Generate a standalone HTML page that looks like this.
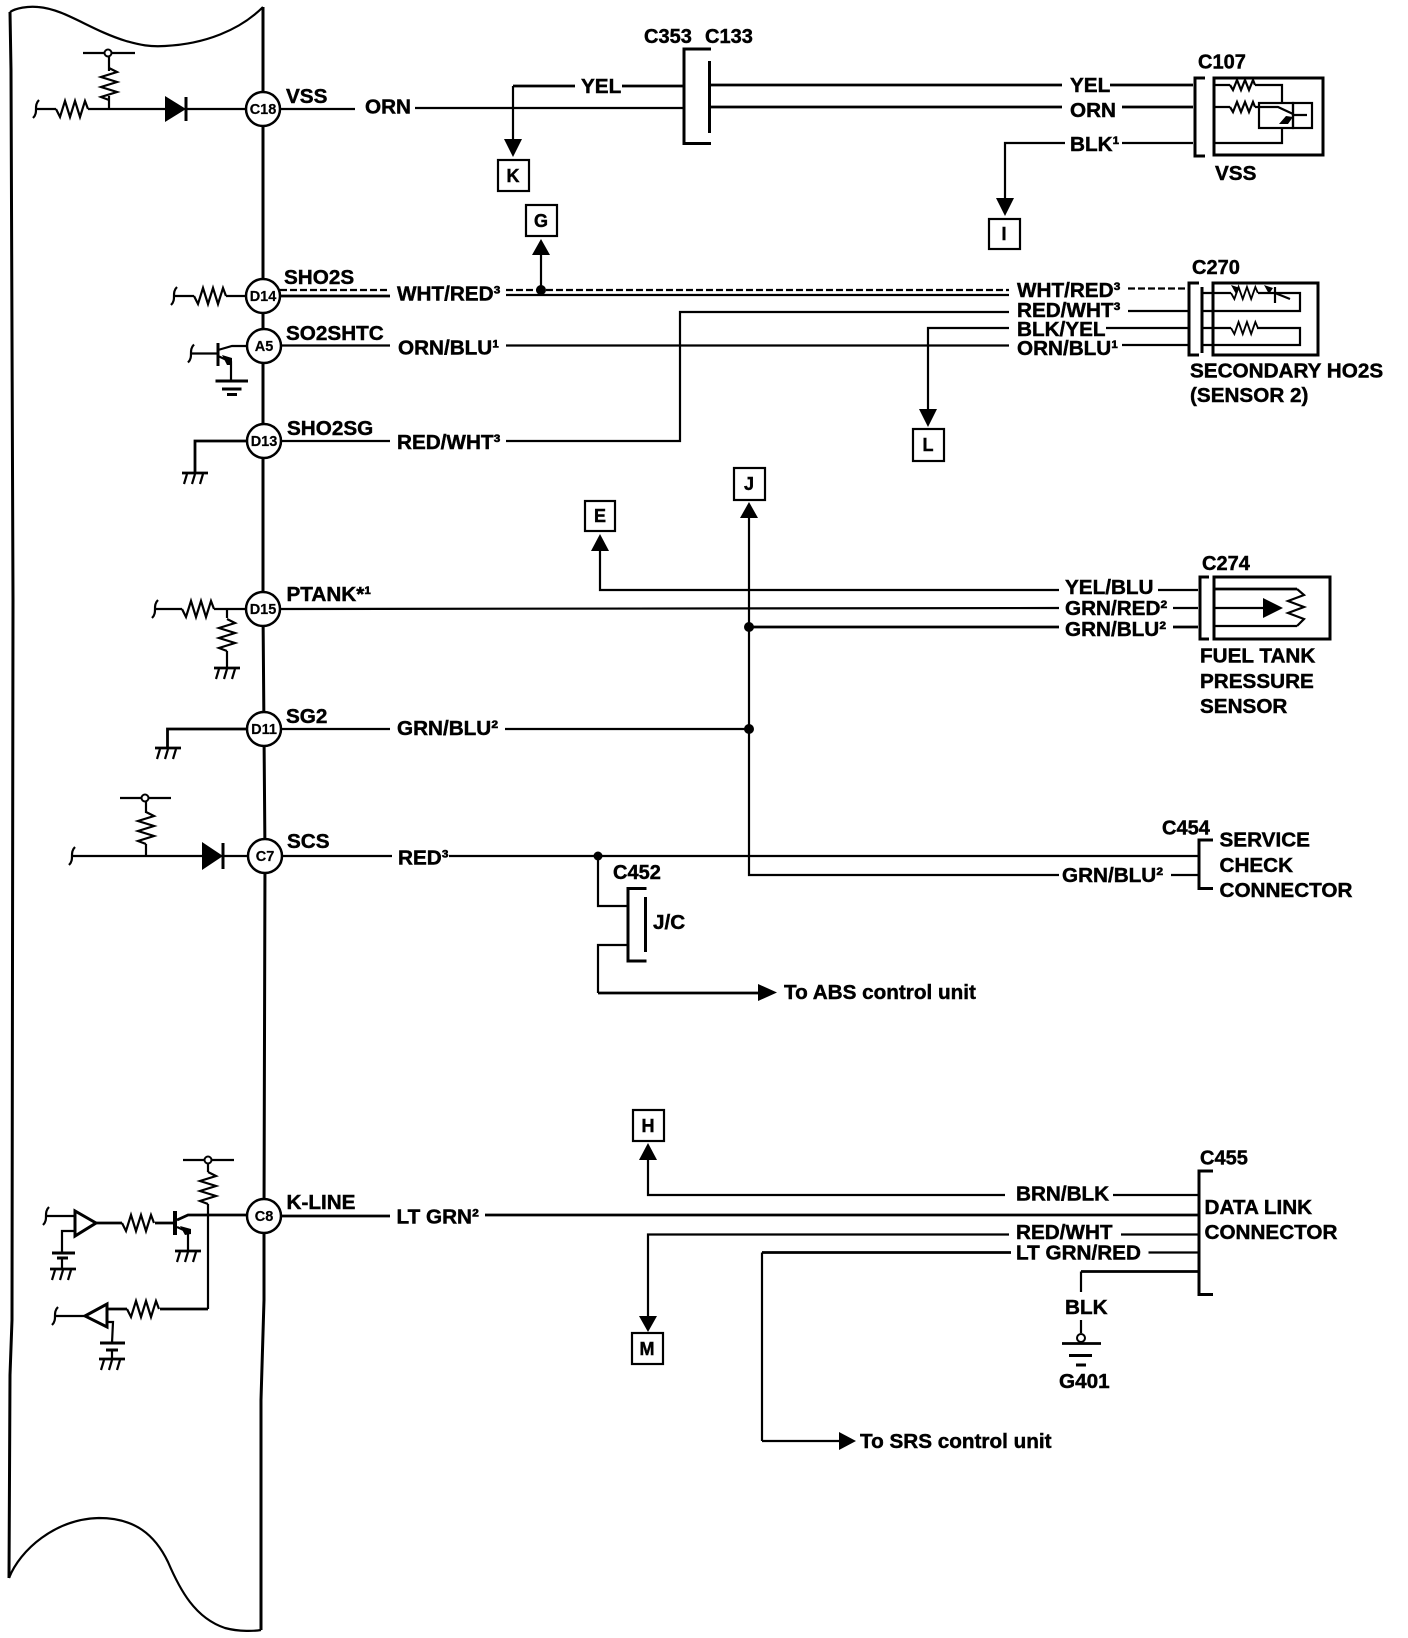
<!DOCTYPE html>
<html><head><meta charset="utf-8"><title>Wiring diagram</title>
<style>
html,body{margin:0;padding:0;background:#fff}
svg{display:block}
text{font-family:"Liberation Sans",sans-serif;font-weight:bold;font-size:20.7px;fill:#000;stroke:#000;stroke-width:.45}
.c{font-size:20px}
.p{font-size:14.5px;text-anchor:middle;stroke-width:.2}
.b{font-size:18px;text-anchor:middle}
.w{fill:none;stroke:#000;stroke-width:2.2;stroke-linejoin:miter}
.t{fill:none;stroke:#000;stroke-width:3}
.h{fill:none;stroke:#000;stroke-width:2.8}
.d{fill:none;stroke:#000;stroke-width:2.2;stroke-dasharray:7 3}
.f{fill:#000;stroke:none}
.o{fill:#fff;stroke:#000;stroke-width:2.5}
.r{fill:#fff;stroke:#000;stroke-width:2}
</style></head><body>
<svg xmlns="http://www.w3.org/2000/svg" width="1408" height="1638" viewBox="0 0 1408 1638">
<defs>
<path id="rh" class="w" d="M0 0L4 8L9 -8L14 8L19 -8L24 8L29 -8L32 0"/>
<path id="rv" class="w" d="M0 0L8 4L-8 9L8 14L-8 19L8 24L-8 29L0 32"/>
<path id="rs" class="w" d="M0 0L3 5L7 -5L11 5L15 -5L19 5L23 -5L25 0"/>
<path id="brk" class="w" d="M-3 9C0 6 0 3 0 0C0 -3 0 -6 3 -9"/>
<g id="gnd"><path class="h" d="M-13 0H13"/><path class="w" d="M-8 1L-11 11M0 1L-3 11M8 1L5 11"/></g>
</defs>
<rect width="1408" height="1638" fill="#fff"/>

<!-- ECU outline -->
<path class="t" d="M10 12L11 70L13 600L12 1320L10 1375L9 1578"/>
<path class="w" d="M10 12C16 8 28 6 38 7C65 9 90 30 126 41C140 45 150 47 165 46C205 44 240 30 263 7"/>
<path class="w" d="M9 1578C20 1550 55 1519 99 1518C135 1518 155 1535 168 1562C180 1590 195 1618 225 1628C240 1632 255 1631 261 1630"/>
<path class="t" d="M263 7L263 609L265 856L264 1216L264 1300L261 1400L261 1630"/>

<!-- C18 VSS -->
<use href="#brk" x="36" y="109"/>
<path class="w" d="M36 109H56M88 109H165M186 109H247M109 109V96M109 71V53M83 53H135"/>
<use href="#rh" x="56" y="109"/>
<use href="#rv" x="109" y="68" />
<path class="f" d="M165 96L186 109L165 122Z"/><path class="t" d="M186 97V121"/>
<circle class="r" cx="108" cy="53" r="3.5"/>
<path class="w" d="M280 109H355M415 108H683"/>
<path class="h" d="M683 86H622M575 86H513"/><path class="w" d="M513 86V139"/>
<path class="f" d="M504 139H522L513 157Z"/>
<path class="t" d="M711 49H684V143.500H711M709.500 61V133"/>
<path class="h" d="M710 85H1062M1110 85H1193M710 107H1062M1122 107H1193"/>
<path class="w" d="M1065 143H1005V198M1122 143H1193"/>
<path class="f" d="M996 198H1014L1005 216Z"/>

<!-- C107 -->
<path class="t" d="M1205 78H1195V156H1205"/>
<rect class="t" x="1214" y="78" width="109" height="77"/>
<path class="w" d="M1214 85H1230M1255 85H1282V103M1214 107H1230M1255 107H1278L1293 114M1214 143H1282V128M1293 115H1307"/>
<use href="#rs" x="1230" y="85"/><use href="#rs" x="1230" y="107"/>
<rect x="1259" y="103" width="34" height="25" class="w"/><rect x="1293" y="103" width="19" height="25" class="w"/>
<path class="f" d="M1279 124L1286 116L1293 117L1288 124Z"/>

<!-- D14 SHO2S -->
<use href="#brk" x="174" y="296"/>
<path class="w" d="M174 296H194M226 296H247"/><use href="#rh" x="194" y="296"/>
<path class="d" d="M280 290H388M506 290H1009M1128 288.500H1187"/>
<path class="h" d="M280 296H390"/><path class="w" d="M506 295H1009"/>
<path class="w" d="M541 290V255"/>
<path class="f" d="M532 255H550L541 239Z"/><circle class="f" cx="541" cy="290" r="5"/>

<!-- A5 -->
<use href="#brk" x="191" y="353.500"/>
<path class="w" d="M191 353.500H218M218 350L232 346H247M218 356L231 362V381"/>
<path class="t" d="M218 343V366"/><path class="f" d="M222 355L232 358V365L227 365Z"/>
<path class="t" d="M215.500 381H248"/><path class="t" d="M222 389H241.500M227 394.500H237"/>
<path class="w" d="M280 345.500H390M506 345.500H1009M1122 345H1189"/>

<!-- D13 -->
<path class="h" d="M247 441H195V473"/><g transform="translate(195 473)"><use href="#gnd"/></g>
<path class="w" d="M280 441H390M506 441H680V312H1009M1128 311H1189"/>
<path class="w" d="M928 409V328H1009M1106 328H1189"/>
<path class="f" d="M919 409H937L928 427Z"/>

<!-- C270 -->
<path class="t" d="M1199 283H1189V355H1199M1202 287V353"/>
<rect class="t" x="1213" y="283" width="105" height="72"/>
<path class="w" d="M1202 293H1231M1258 293H1300V311H1202M1202 328H1231M1257 328H1300V345H1202"/>
<use href="#rh" transform="translate(1231 293) scale(.84 .75)"/><use href="#rh" transform="translate(1231 328) scale(.84 .75)"/>
<path class="w" d="M1275 287V303M1275 293L1290 299"/>
<path class="f" d="M1231 285L1240 288L1236 294ZM1264 285L1273 288L1269 294Z"/>

<!-- D15 -->
<use href="#brk" x="155" y="609"/>
<path class="w" d="M155 609H182M214 609H247M227 609V618M227 651V668M280 609L1059 608M1173 608H1198"/>
<use href="#rh" x="182" y="609"/><use href="#rv" x="227" y="619"/>
<g transform="translate(227 668)"><use href="#gnd"/></g>
<path class="w" d="M600 551V590H1059M1158 590H1198"/>
<path class="f" d="M591 551H609L600 534Z"/>
<path class="h" d="M749 627H1059M1173 627H1198"/>
<circle class="f" cx="749" cy="627" r="5"/>
<path class="w" d="M749 518V875H1059M1171 875H1198"/>
<path class="f" d="M740 518H758L749 502Z"/>
<circle class="f" cx="749" cy="729" r="5"/>

<!-- C274 -->
<path class="t" d="M1209 577H1200V639H1209"/>
<rect class="t" x="1214" y="577" width="116" height="62"/>
<path class="h" d="M1214 589H1297"/><path class="w" d="M1214 608H1263M1214 626H1297"/>
<path class="f" d="M1263 598L1283 608L1263 618Z"/>
<path class="w" d="M1297 589L1304 595L1288 601L1304 607L1288 613L1304 619L1297 626"/>

<!-- D11 -->
<path class="h" d="M247 729H167.500V747.500"/><g transform="translate(168 748)"><use href="#gnd"/></g>
<path class="w" d="M280 729H390M505 729H749"/>

<!-- C7 -->
<use href="#brk" x="72" y="856"/>
<path class="w" d="M72 856H202M223 856H248M146 856V844M146 813V798M120 798H171"/>
<use href="#rv" x="146" y="812"/>
<circle class="r" cx="145" cy="798" r="3.500"/>
<path class="f" d="M202 842L223 856L202 870Z"/><path class="t" d="M223 843V869"/>
<path class="w" d="M282 856H392M449 856H1198"/>
<circle class="f" cx="598" cy="856" r="4.500"/>
<path class="w" d="M598 856V906H628M628 945H598V993"/>
<path class="h" d="M598 993H758"/>
<path class="f" d="M758 984L777 992.500L758 1001Z"/>
<path class="t" d="M646.500 888.500H628V961H646.500M645.500 897V952"/>
<path class="t" d="M1213 840H1199V888.500H1213"/>

<!-- C8 K-LINE -->
<path class="h" d="M280 1216H390M485 1215H1198"/>
<use href="#brk" x="46" y="1216"/>
<path class="w" d="M46 1216H75M75 1231H62V1253M62 1259V1269"/>
<path class="t" fill="#fff" d="M75 1211V1236L96 1223Z"/>
<path class="h" d="M96 1223H122M155 1223H173"/>
<use href="#rh" x="122" y="1223"/>
<path class="t" d="M52 1253H75M57 1258H68"/><g transform="translate(63 1269)"><use href="#gnd"/></g>
<path style="fill:none;stroke:#000;stroke-width:4" d="M175 1211V1235"/>
<path class="h" d="M177 1220L188 1215H247"/>
<path class="w" d="M177 1227L188 1232V1251"/><path class="f" d="M180 1226L191 1229V1234L185 1235Z"/>
<g transform="translate(188 1251)"><use href="#gnd"/></g>
<path class="w" d="M183 1160H234M208 1160V1172M208 1204V1309"/>
<use href="#rv" x="208" y="1172"/>
<circle class="r" cx="208" cy="1160" r="3.500"/>
<use href="#brk" x="55" y="1316"/>
<path class="w" d="M55 1316H85M107 1322H113L112 1343M112 1350V1359"/>
<path class="t" fill="#fff" d="M107 1304V1327L85 1316Z"/>
<path class="h" d="M107 1309H127M160 1309H208"/><use href="#rh" x="127" y="1309"/>
<path class="t" d="M100 1343H125M106 1350H118"/><g transform="translate(112 1359)"><use href="#gnd"/></g>

<path class="w" d="M648 1160V1195H1005M1113 1195H1198"/>
<path class="f" d="M639 1160H657L648 1143Z"/>
<path class="w" d="M648 1316V1234.500H1009M1121 1234.500H1198"/>
<path class="f" d="M639 1316H657L648 1332Z"/>
<path class="w" d="M1148.500 1252.500H1198M839 1441H762"/>
<path class="h" d="M1011 1252.500H762"/><path class="w" d="M762 1252.500V1441"/>
<path class="f" d="M839 1432L856 1441L839 1450Z"/>
<path class="h" d="M1198 1271.500H1081"/><path class="w" d="M1081 1271.500V1292M1081 1320V1333"/>
<circle class="r" cx="1081" cy="1338" r="4"/>
<path class="h" d="M1062 1343.500H1101"/><path class="t" d="M1069 1355.500H1092M1076 1365H1086"/>
<path class="t" d="M1213 1171H1199V1294.500H1213"/>

<!-- Connector pins -->
<ellipse class="o" cx="263" cy="109" rx="17" ry="17"/><text class="p" x="263" y="114">C18</text>
<ellipse class="o" cx="263" cy="296" rx="17" ry="17"/><text class="p" x="263" y="301">D14</text>
<ellipse class="o" cx="264" cy="346" rx="17" ry="17"/><text class="p" x="264" y="351">A5</text>
<ellipse class="o" cx="264" cy="441" rx="17" ry="17"/><text class="p" x="264" y="446">D13</text>
<ellipse class="o" cx="263" cy="609" rx="17" ry="17"/><text class="p" x="263" y="614">D15</text>
<ellipse class="o" cx="264" cy="729" rx="17" ry="17"/><text class="p" x="264" y="734">D11</text>
<ellipse class="o" cx="265" cy="856" rx="17" ry="17"/><text class="p" x="265" y="861">C7</text>
<ellipse class="o" cx="264" cy="1216" rx="17" ry="17"/><text class="p" x="264" y="1221">C8</text>

<!-- Reference boxes -->
<g class="w">
<rect class="w" x="498" y="160" width="31" height="31"/><rect class="w" x="526" y="205" width="31" height="31"/>
<rect class="w" x="585" y="501" width="30" height="30"/><rect class="w" x="989" y="219" width="31" height="30"/>
<rect class="w" x="913" y="429" width="31" height="32"/><rect class="w" x="734" y="468" width="31" height="32"/>
<rect class="w" x="633" y="1110" width="31" height="31"/><rect class="w" x="632" y="1333" width="31" height="31"/>
</g>
<text class="b" x="513" y="182">K</text><text class="b" x="541" y="227">G</text>
<text class="b" x="600" y="522">E</text><text class="b" x="1004" y="240">I</text>
<text class="b" x="928" y="451">L</text><text class="b" x="749" y="490">J</text>
<text class="b" x="648" y="1132">H</text><text class="b" x="647" y="1355">M</text>

<!-- Labels -->
<text class="c" x="644" y="43">C353</text><text class="c" x="705" y="43">C133</text>
<text x="286" y="103">VSS</text><text x="365" y="113.500">ORN</text><text x="581" y="93">YEL</text>
<text x="1070" y="92">YEL</text><text x="1070" y="117">ORN</text><text x="1070" y="151">BLK¹</text>
<text class="c" x="1198" y="68.500">C107</text><text x="1215" y="180">VSS</text>
<text class="c" x="1192" y="274">C270</text>
<text x="1017" y="297">WHT/RED³</text><text x="1017" y="317">RED/WHT³</text>
<text x="1017" y="336">BLK/YEL</text><text x="1017" y="355">ORN/BLU¹</text>
<text x="1190" y="377.500">SECONDARY HO2S</text><text x="1190" y="402">(SENSOR 2)</text>
<text x="284" y="284">SHO2S</text><text x="397" y="300.500">WHT/RED³</text>
<text x="286" y="340">SO2SHTC</text><text x="398" y="354.500">ORN/BLU¹</text>
<text x="287" y="435">SHO2SG</text><text x="397" y="449">RED/WHT³</text>
<text x="286.500" y="601">PTANK*¹</text>
<text class="c" x="1202" y="570">C274</text>
<text x="1065" y="594">YEL/BLU</text><text x="1065" y="615">GRN/RED²</text><text x="1065" y="636">GRN/BLU²</text>
<text x="1200" y="662.500">FUEL TANK</text><text x="1200" y="688">PRESSURE</text><text x="1200" y="713">SENSOR</text>
<text x="286" y="723">SG2</text><text x="397" y="735">GRN/BLU²</text>
<text x="287" y="848">SCS</text><text x="398" y="864.500">RED³</text>
<text class="c" x="613" y="879">C452</text><text x="653" y="929">J/C</text>
<text class="c" x="1162" y="834.500">C454</text>
<text x="1219.500" y="846.500">SERVICE</text><text x="1219.500" y="872">CHECK</text><text x="1219.500" y="897">CONNECTOR</text>
<text x="1062" y="882">GRN/BLU²</text>
<text x="784" y="999">To ABS control unit</text>
<text x="286.500" y="1209">K-LINE</text><text x="396.500" y="1223.500">LT GRN²</text>
<text class="c" x="1200" y="1164.500">C455</text>
<text x="1204.500" y="1214">DATA LINK</text><text x="1204.500" y="1239">CONNECTOR</text>
<text x="1016" y="1200.500">BRN/BLK</text><text x="1016" y="1239">RED/WHT</text><text x="1016" y="1259.500">LT GRN/RED</text>
<text x="1065" y="1314">BLK</text><text x="1059" y="1388">G401</text>
<text x="860" y="1448">To SRS control unit</text>
</svg>
</body></html>
